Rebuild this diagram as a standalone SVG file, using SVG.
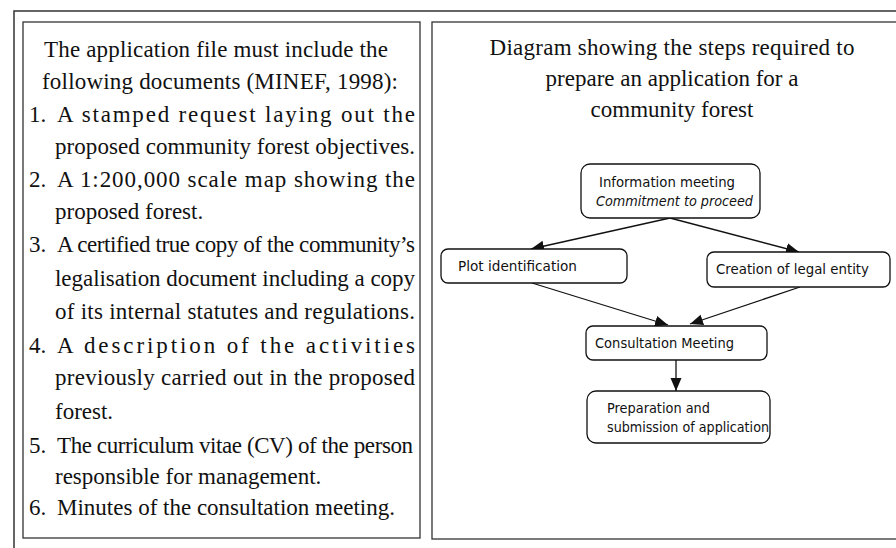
<svg xmlns="http://www.w3.org/2000/svg" width="896" height="548" viewBox="0 0 896 548">
<style>
.frame{fill:none;stroke:#333;stroke-width:1.5}
.panel{fill:#fff;stroke:#333;stroke-width:1.3}
.serif{font-family:"Liberation Serif","Times New Roman",serif;font-size:23px;fill:#111}
.node rect{fill:#fff;stroke:#111;stroke-width:1.3}
.node text{font-family:"Comic Sans MS","DejaVu Sans","Noto Sans",sans-serif;font-size:13.5px;fill:#111}
.conn line{stroke:#111;stroke-width:1.3;marker-end:url(#ah)}
</style>
<defs>
<marker id="ah" markerUnits="userSpaceOnUse" markerWidth="14" markerHeight="12" refX="13" refY="6" orient="auto">
<path d="M0,0.5 L13,6 L0,11.5 Z" fill="#111"/>
</marker>
</defs>
<rect width="896" height="548" fill="#fff"/>
<path class="frame" d="M14,548 V11 H896"/>
<g id="left-panel">
<rect class="panel" x="23" y="22" width="397" height="516"/>
<text class="serif" text-anchor="middle" x="216" y="57" textLength="344" lengthAdjust="spacing">The application file must include the</text>
<text class="serif" text-anchor="middle" x="220" y="89" textLength="356" lengthAdjust="spacing">following documents (MINEF, 1998):</text>
<text class="serif" x="29" y="122">1.</text>
<text class="serif" x="57" y="122" textLength="358" lengthAdjust="spacing">A stamped request laying out the</text>
<text class="serif" x="55" y="154" textLength="360" lengthAdjust="spacing">proposed community forest objectives.</text>
<text class="serif" x="29" y="187">2.</text>
<text class="serif" x="57" y="187" textLength="358" lengthAdjust="spacing">A 1:200,000 scale map showing the</text>
<text class="serif" x="55" y="219">proposed forest.</text>
<text class="serif" x="29" y="252">3.</text>
<text class="serif" x="57" y="252" textLength="358" lengthAdjust="spacing">A certified true copy of the community’s</text>
<text class="serif" x="55" y="286" textLength="360" lengthAdjust="spacing">legalisation document including a copy</text>
<text class="serif" x="55" y="319" textLength="360" lengthAdjust="spacing">of its internal statutes and regulations.</text>
<text class="serif" x="29" y="353">4.</text>
<text class="serif" x="57" y="353" textLength="358" lengthAdjust="spacing">A description of the activities</text>
<text class="serif" x="55" y="385" textLength="360" lengthAdjust="spacing">previously carried out in the proposed</text>
<text class="serif" x="55" y="419">forest.</text>
<text class="serif" x="29" y="453">5.</text>
<text class="serif" x="57" y="453" textLength="356" lengthAdjust="spacing">The curriculum vitae (CV) of the person</text>
<text class="serif" x="55" y="484">responsible for management.</text>
<text class="serif" x="29" y="515">6.</text>
<text class="serif" x="57" y="515">Minutes of the consultation meeting.</text>
</g>
<g id="right-panel">
<rect class="panel" x="432" y="22" width="480" height="517"/>
<text class="serif" text-anchor="middle" x="672" y="55" textLength="365" lengthAdjust="spacing">Diagram showing the steps required to</text>
<text class="serif" text-anchor="middle" x="672" y="86">prepare an application for a</text>
<text class="serif" text-anchor="middle" x="672" y="117">community forest</text>
</g>
<g id="connectors" class="conn">
<line x1="670" y1="218" x2="531" y2="249"/>
<line x1="670" y1="218" x2="799" y2="252"/>
<line x1="532" y1="283" x2="668" y2="325"/>
<line x1="800" y1="287" x2="690" y2="324"/>
<line x1="676" y1="360" x2="676" y2="391"/>
</g>
<g id="node-info" class="node">
<rect x="581" y="164" width="179" height="54" rx="9"/>
<text x="599" y="187" textLength="136" lengthAdjust="spacingAndGlyphs">Information meeting</text>
<text x="596" y="206" font-style="italic" textLength="157" lengthAdjust="spacingAndGlyphs">Commitment to proceed</text>
</g>
<g id="node-plot" class="node">
<rect x="441" y="249" width="186" height="34" rx="7"/>
<text x="458" y="271" textLength="119" lengthAdjust="spacingAndGlyphs">Plot identification</text>
</g>
<g id="node-legal" class="node">
<rect x="707" y="252" width="183" height="35" rx="7"/>
<text x="716" y="274" textLength="153" lengthAdjust="spacingAndGlyphs">Creation of legal entity</text>
</g>
<g id="node-consult" class="node">
<rect x="586" y="326" width="181" height="34" rx="7"/>
<text x="595" y="348" textLength="139" lengthAdjust="spacingAndGlyphs">Consultation Meeting</text>
</g>
<g id="node-prep" class="node">
<rect x="587" y="391" width="183" height="52" rx="9"/>
<text x="607" y="413" textLength="103" lengthAdjust="spacingAndGlyphs">Preparation and</text>
<text x="607" y="432" textLength="162" lengthAdjust="spacingAndGlyphs">submission of application</text>
</g>
</svg>
